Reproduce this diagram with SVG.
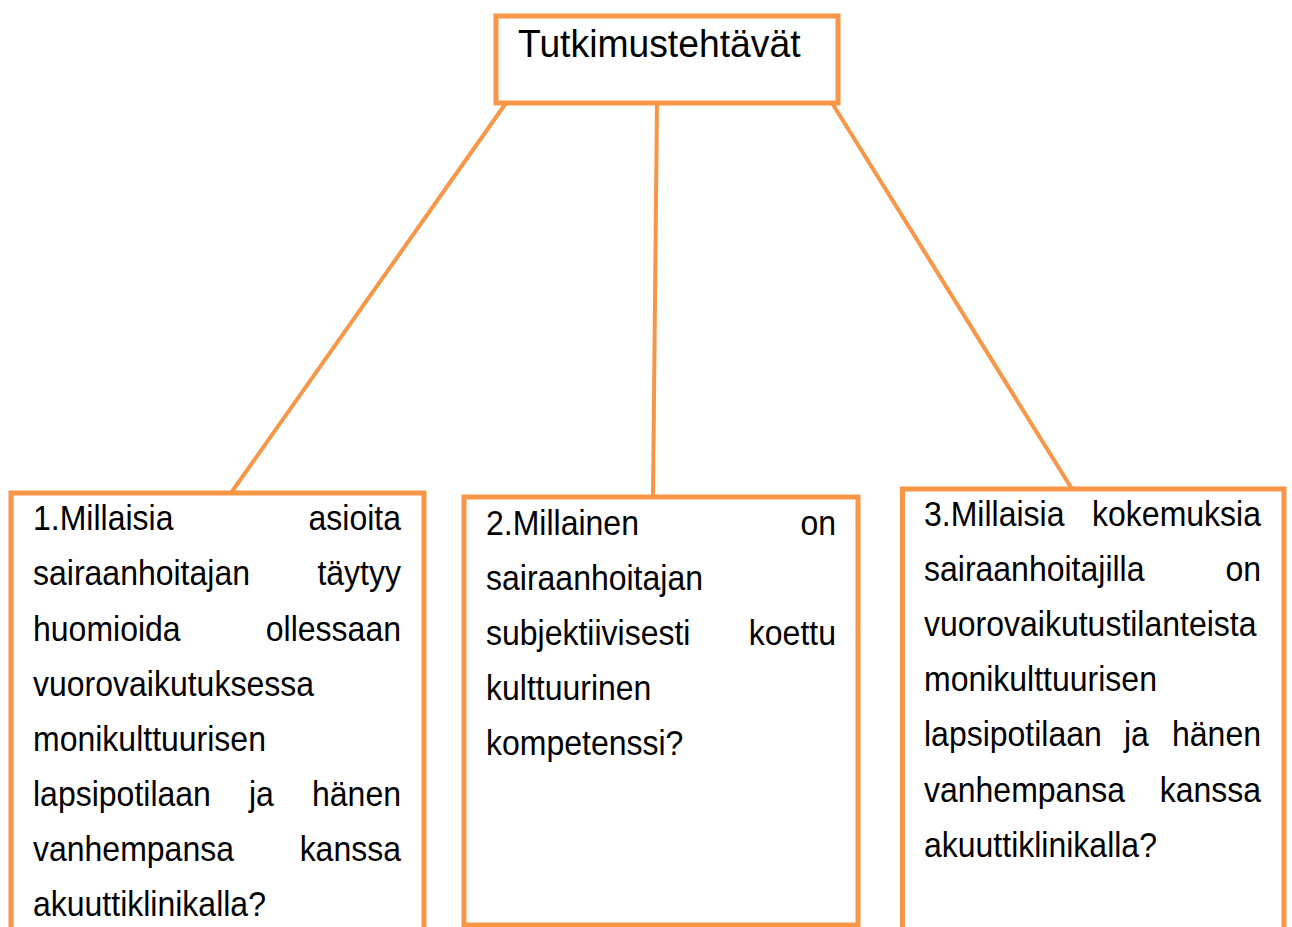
<svg xmlns="http://www.w3.org/2000/svg" width="1292" height="927" viewBox="0 0 1292 927">
<style>
.box{fill:#fff;stroke:#F79646;stroke-width:5}
.con{stroke:#F79646;stroke-width:4;fill:none}
text{font-family:"Liberation Sans",Arial,sans-serif;font-size:32px;fill:#000}
.t{font-size:37.3px}
.e{text-anchor:end}
</style>
<rect width="1292" height="927" fill="#fff"/>
<g id="connectors">
<line class="con" x1="506" y1="103" x2="231" y2="493"/>
<line class="con" x1="657" y1="103" x2="653" y2="497"/>
<line class="con" x1="832" y1="103" x2="1072" y2="489"/>
</g>
<g id="root">
<rect class="box" x="496" y="16" width="342" height="87"/>
<g transform="scale(1,1.05)"><text class="t" x="518" y="54.29">Tutkimustehtävät</text></g>
</g>
<g id="q1">
<path class="box" d="M11,932 V493 H424 V932"/>
<g transform="scale(1,1.08)">
<text x="33" y="490.74">1.Millaisia</text><text class="e" x="401" y="490.74">asioita</text>
<text x="33" y="541.67">sairaanhoitajan</text><text class="e" x="401" y="541.67">täytyy</text>
<text x="33" y="593.52">huomioida</text><text class="e" x="401" y="593.52">ollessaan</text>
<text x="33" y="644.44">vuorovaikutuksessa</text>
<text x="33" y="695.37">monikulttuurisen</text>
<text x="33" y="746.30">lapsipotilaan</text><text x="249" y="746.30">ja</text><text class="e" x="401" y="746.30">hänen</text>
<text x="33" y="797.22">vanhempansa</text><text class="e" x="401" y="797.22">kanssa</text>
<text x="33" y="848.15">akuuttiklinikalla?</text>
</g>
</g>
<g id="q2">
<rect class="box" x="464" y="497" width="394" height="428"/>
<g transform="scale(1,1.08)">
<text x="486" y="495.37">2.Millainen</text><text class="e" x="836" y="495.37">on</text>
<text x="486" y="546.30">sairaanhoitajan</text>
<text x="486" y="597.22">subjektiivisesti</text><text class="e" x="836" y="597.22">koettu</text>
<text x="486" y="648.15">kulttuurinen</text>
<text x="486" y="699.07">kompetenssi?</text>
</g>
</g>
<g id="q3">
<path class="box" d="M902.5,932 V489 H1284 V932"/>
<g transform="scale(1,1.08)">
<text x="924" y="487.04">3.Millaisia</text><text class="e" x="1261" y="487.04">kokemuksia</text>
<text x="924" y="537.96">sairaanhoitajilla</text><text class="e" x="1261" y="537.96">on</text>
<text x="924" y="588.89">vuorovaikutustilanteista</text>
<text x="924" y="639.81">monikulttuurisen</text>
<text x="924" y="690.74">lapsipotilaan</text><text x="1124" y="690.74">ja</text><text class="e" x="1261" y="690.74">hänen</text>
<text x="924" y="742.59">vanhempansa</text><text class="e" x="1261" y="742.59">kanssa</text>
<text x="924" y="793.52">akuuttiklinikalla?</text>
</g>
</g>
</svg>
